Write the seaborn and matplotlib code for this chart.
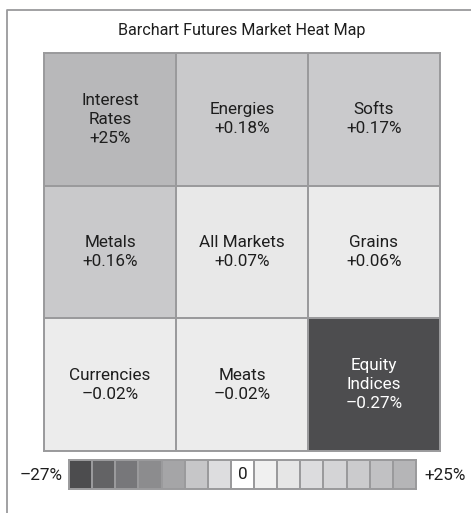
import numpy as np
import seaborn as sns
import matplotlib.pyplot as plt
from matplotlib.colors import ListedColormap
from matplotlib.lines import Line2D

# market sectors, laid out row by row in the 3x3 map
sectors = [["Interest\nRates", "Energies", "Softs"],
           ["Metals", "All Markets", "Grains"],
           ["Currencies", "Meats", "Equity\nIndices"]]
changes = [["+25%", "+0.18%", "+0.17%"],
           ["+0.16%", "+0.07%", "+0.06%"],
           ["\u20130.02%", "\u20130.02%", "\u20130.27%"]]
# grey shade of each cell
shades = ["#b8b8ba", "#c9c9cb", "#cacacc",
          "#c9c9cb", "#e8e8e8", "#ebebeb",
          "#ececec", "#ececec", "#4d4d4f"]

# legend scale, from -27% to +25%
scale_colors = ["#4c4c4e", "#636365", "#77777a", "#8c8c8e", "#a5a5a7",
                "#c6c6c8", "#dddddf", "#ffffff", "#f0f0f0", "#e6e6e6",
                "#dcdcde", "#d4d4d6", "#cbcbcd", "#c1c1c3", "#b5b5b7"]
scale_low = "\u201327%"
scale_high = "+25%"
title = "Barchart Futures Market Heat Map"

sns.set_style("white")
plt.rcParams['font.family'] = ['Roboto', 'DejaVu Sans']

fig = plt.figure(figsize=(4.71, 5.13), dpi=100)

# main map
ax = fig.add_axes([44/471, 1-451/513, 396/471, 398/513])
idx = np.arange(9).reshape(3, 3)
labels = np.array([[f"{s}\n{c}" for s, c in zip(rs, rc)] for rs, rc in zip(sectors, changes)])
sns.heatmap(idx, cmap=ListedColormap(shades), vmin=-0.5, vmax=8.5, cbar=False,
            annot=labels, fmt="", linewidths=1.4, linecolor="#9a9a9c",
            annot_kws={"fontsize": 12.3, "color": "#1e1e1e", "linespacing": 1.35},
            ax=ax, square=False)
for t in ax.texts:
    if "Equity" in t.get_text():
        t.set_color("white")
ax.set_xticks([])
ax.set_yticks([])
for sp in ax.spines.values():
    sp.set_visible(True)
    sp.set_color("#9a9a9c")
    sp.set_linewidth(1.4)

# scale bar
cax = fig.add_axes([69/471, 1-489/513, 347/471, 29/513])
n = len(scale_colors)
zero_lbl = np.array([["0" if c == "#ffffff" else "" for c in scale_colors]])
sns.heatmap(np.arange(n).reshape(1, n), cmap=ListedColormap(scale_colors),
            vmin=-0.5, vmax=n-0.5, cbar=False, annot=zero_lbl, fmt="",
            linewidths=1.4, linecolor="#9a9a9c",
            annot_kws={"fontsize": 12.3, "color": "#1e1e1e"}, ax=cax)
cax.set_xticks([])
cax.set_yticks([])
for sp in cax.spines.values():
    sp.set_visible(True)
    sp.set_color("#9a9a9c")
    sp.set_linewidth(1.4)

fig.text(41/471, 1-475/513, scale_low, ha="center", va="center", fontsize=12.3, color="#1e1e1e")
fig.text(445/471, 1-475/513, scale_high, ha="center", va="center", fontsize=12.3, color="#1e1e1e")
fig.text(242/471, 1-30/513, title, ha="center", va="center", fontsize=11.6, color="#1e1e1e")

# open frame on the left and top
fig.add_artist(Line2D([7/471, 7/471, 1.0], [0.0, 1-10/513, 1-10/513],
                      transform=fig.transFigure, color="#9a9a9c", lw=1.3))

fig.savefig("out.png", dpi=100)
